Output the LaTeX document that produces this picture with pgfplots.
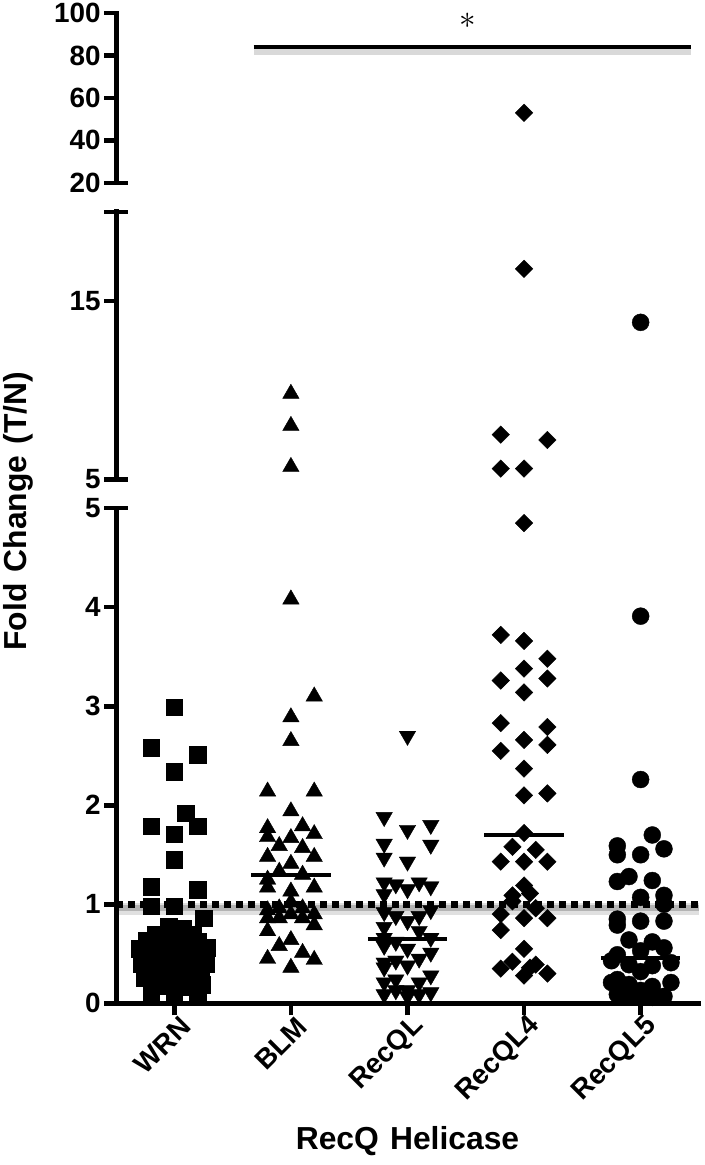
\documentclass[border=0pt]{standalone}
\usepackage{pgfplots}
\pgfplotsset{compat=1.18}
\usepackage{fontspec}
\setmainfont{Liberation Sans}
\usepackage{graphicx}

\newcommand{\tickfont}{\fontsize{28}{28}\selectfont\bfseries}
\newcommand{\labfont}{\fontsize{32}{32}\selectfont\bfseries}

\pgfplotsset{
  seg/.style={
    scale only axis, width=584bp, xmin=-0.5, xmax=4.5, clip=false,
    axis line style={line width=5bp, -, line cap=rect},
    tick style={line width=4.5bp, black},
    major tick length=12bp, tick align=outside,
    yticklabel style={font=\tickfont},
    xticklabel style={font=\tickfont},
  },
  sq/.style={only marks, mark=square*, mark size=8.3bp, black},
  tri/.style={only marks, mark=triangle*, mark size=9.5bp, black},
  itri/.style={only marks, mark=triangle*, mark size=9.5bp, black, mark options={rotate=180}},
  dia/.style={only marks, mark=square*, mark size=6.2bp, black, mark options={rotate=45}},
  circ/.style={only marks, mark=*, mark size=8.5bp, black},
  med/.style={line width=4bp, black, no marks},
}

\begin{document}
\begin{tikzpicture}[x=1bp, y=1bp]
\path (0,0) rectangle (700,1165);

% ---------------- bottom segment 0..5 ----------------
\begin{axis}[seg, at={(113bp,162bp)}, anchor=south west, height=496bp,
  ymin=0, ymax=5,
  axis x line*=bottom, axis y line*=left,
  xtick={0,1,2,3,4}, xticklabels={WRN,BLM,RecQL,RecQL4,RecQL5},
  xticklabel style={rotate=45, anchor=east, xshift=7bp, yshift=-13bp},
  ytick={0,1,2,3,4,5}, yticklabels={0,1,2,3,4,5}]
% WRN
\addplot[sq] coordinates {
(0,2.99) (-0.2,2.58) (0.2,2.51) (0,2.34) (0.1,1.92) (-0.2,1.79) (0.2,1.79) (0,1.71)
(0,1.45) (-0.2,1.18) (0.2,1.15) (-0.2,0.98) (0,0.98) (0.25,0.86)
(-0.05,0.78) (0.07,0.76)
(-0.16,0.70) (0,0.70) (0.16,0.70)
(-0.24,0.63) (-0.1,0.63) (0.06,0.64) (0.2,0.62)
(-0.3,0.55) (-0.16,0.56) (0,0.55) (0.15,0.55) (0.28,0.56)
(-0.22,0.48) (-0.08,0.48) (0.08,0.47) (0.22,0.48)
(-0.28,0.40) (-0.13,0.41) (0,0.40) (0.14,0.40) (0.27,0.40)
(-0.22,0.33) (-0.07,0.33) (0.08,0.33) (0.23,0.33)
(-0.26,0.26) (-0.12,0.26) (0.03,0.25) (0.17,0.26)
(-0.2,0.18) (-0.05,0.18) (0.12,0.17) (0.24,0.19)
(-0.2,0.11) (0,0.10) (0.2,0.10)
};
% BLM
\addplot[tri] coordinates {
(1,4.08) (1.2,3.10) (1,2.89) (1,2.65) (0.8,2.14) (1.2,2.14) (1,1.94) (1.1,1.79)
(0.8,1.77) (1.2,1.71) (0.8,1.68) (1,1.67) (0.9,1.59) (1.1,1.57) (0.8,1.48) (1.2,1.48)
(1,1.41) (0.9,1.33) (1.1,1.30) (0.8,1.25) (0.8,1.17) (1.2,1.17) (1,1.13) (1,1.02)
(0.9,0.96) (1.1,0.96) (0.8,0.94) (1,0.90) (1.2,0.90) (0.8,0.86) (0.9,0.86) (1.1,0.86)
(1.2,0.79) (0.8,0.73) (1,0.64) (0.9,0.58) (0.8,0.45) (1.1,0.51) (1.2,0.44) (1,0.36)
};
% RecQL
\addplot[itri] coordinates {
(2,2.70) (1.8,1.88) (2.2,1.80) (2,1.75) (2.2,1.60) (1.8,1.61) (1.8,1.47) (2,1.43)
(1.8,1.22) (1.9,1.20) (2.1,1.22) (2.2,1.18) (2,1.15) (1.8,1.10) (2.2,0.94) (1.9,0.88)
(2.1,0.88) (1.8,0.92) (2,0.83) (1.8,0.77) (2.1,0.73) (2.2,0.66) (1.9,0.62) (1.8,0.66)
(2,0.55) (2.2,0.51) (2.1,0.45) (1.9,0.43) (1.8,0.41) (1.8,0.58) (1.8,0.36) (2,0.38)
(2.2,0.28) (1.9,0.24) (2.1,0.21) (1.8,0.21) (2,0.13) (2.2,0.11) (2.1,0.09) (1.8,0.09)
(1.9,0.13) (2,0.07)
};
% RecQL4
\addplot[dia] coordinates {
(3,4.85)
(2.8,3.72) (3,3.66) (3.2,3.48) (3,3.38) (2.8,3.26) (3.2,3.28) (3,3.14) (2.8,2.83)
(3.2,2.79) (3,2.66) (3.2,2.61) (2.8,2.55) (3,2.37) (3,2.10) (3.2,2.12) (3,1.72)
(2.9,1.58) (3.1,1.55) (2.8,1.43) (3,1.43) (3.2,1.43) (3,1.19) (2.9,1.09) (3.05,1.11)
(2.9,1.03) (3.1,0.96) (2.8,0.90) (3,0.86) (3.2,0.86) (2.8,0.74) (3,0.55) (2.9,0.42)
(3.1,0.39) (2.8,0.35) (3,0.28) (3.2,0.30) (3.05,0.36)
};
% RecQL5
\addplot[circ] coordinates {
(4,3.91) (4,2.26) (4.1,1.70) (3.8,1.59) (4.2,1.56) (4,1.50) (3.8,1.50) (3.9,1.28)
(3.8,1.23) (4.1,1.24) (4,1.07) (4.2,1.09) (4.2,1.00) (3.8,0.85) (4,0.83) (4.2,0.83)
(3.8,0.79) (3.9,0.64) (4.1,0.62) (4.2,0.56) (3.8,0.49) (4,0.53) (3.75,0.43) (4.26,0.41)
(3.9,0.39) (4.1,0.38) (4,0.32) (3.8,0.24) (4.26,0.21) (3.75,0.21) (3.9,0.19) (4.1,0.17)
(4,0.13) (3.8,0.09) (4.2,0.07) (4,0.06) (3.9,0.07) (4.1,0.06)
};
% medians
\addplot[med] coordinates {(-0.34,0.59) (0.34,0.59)};
\addplot[med] coordinates {(0.66,1.30) (1.34,1.30)};
\addplot[med] coordinates {(1.66,0.65) (2.34,0.65)};
\addplot[med] coordinates {(2.66,1.70) (3.34,1.70)};
\addplot[med] coordinates {(3.66,0.46) (4.34,0.46)};
% reference line at 1
\addplot[line width=12bp, black, opacity=0.12, no marks] coordinates {(-0.5,0.955) (4.5,0.955)};
\addplot[line width=6bp, black, opacity=0.2, no marks] coordinates {(-0.5,0.965) (4.5,0.965)};
\addplot[line width=7bp, black, dash pattern=on 7bp off 5bp, no marks] coordinates {(-0.5,1) (4.5,1)};
% cap at 5
\draw[line width=4.5bp] ([xshift=-12bp]axis cs:-0.5,5) -- ([xshift=12bp]axis cs:-0.5,5);
\end{axis}

% ---------------- middle segment 5..20 ----------------
\begin{axis}[seg, at={(113bp,687bp)}, anchor=south west, height=268bp,
  ymin=5, ymax=20,
  axis x line=none, axis y line*=left,
  ytick={5,15}, yticklabels={5,15}]
\addplot[tri] coordinates {(1,9.8) (1,8.0) (1,5.7)};
\addplot[dia] coordinates {(2.8,7.5) (3.2,7.2) (2.8,5.6) (3,5.6) (3,16.8)};
\addplot[circ] coordinates {(4,13.8)};
\draw[line width=4.5bp] ([xshift=-12bp]axis cs:-0.5,5) -- ([xshift=12bp]axis cs:-0.5,5);
\draw[line width=4.5bp] ([xshift=-12bp]axis cs:-0.5,20) -- ([xshift=12bp]axis cs:-0.5,20);
\end{axis}

% ---------------- top segment 20..100 ----------------
\begin{axis}[seg, at={(113bp,984bp)}, anchor=south west, height=170bp,
  ymin=20, ymax=100,
  axis x line=none, axis y line*=left,
  ytick={20,40,60,80,100}, yticklabels={20,40,60,80,100}]
\addplot[dia] coordinates {(3,53)};
\addplot[line width=8bp, black, opacity=0.15, no marks] coordinates {(0.68,82.3) (4.43,82.3)};
\addplot[line width=4bp, black, no marks] coordinates {(0.68,84) (4.43,84)};
\node[inner sep=0pt] at (axis cs:2.52,96.5) {\scalebox{1.6}{\fontsize{20}{20}\selectfont$\ast$}};
\draw[line width=4.5bp] ([xshift=-12bp]axis cs:-0.5,20) -- ([xshift=12bp]axis cs:-0.5,20);
\end{axis}

% axis titles
\node[rotate=90, font=\labfont] at (15bp,655bp) {Fold\hspace{0.35em}Change\hspace{0.35em}(T/N)};
\node[font=\labfont] at (405bp,24bp) {RecQ\hspace{0.35em}Helicase};
\end{tikzpicture}
\end{document}
